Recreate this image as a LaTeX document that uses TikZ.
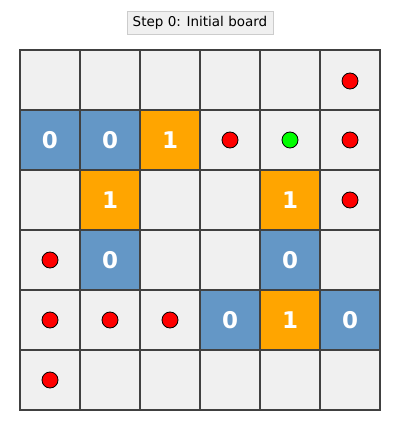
\documentclass[tikz,border=0pt]{standalone}
\usepackage{fontspec}
\setmainfont{DejaVu Sans}
\definecolor{cellbg}{HTML}{F0F0F0}
\definecolor{gridc}{HTML}{404040}
\definecolor{blu}{HTML}{6497C6}
\definecolor{org}{HTML}{FFA500}
\definecolor{titlebd}{HTML}{CCCCCC}
\begin{document}
\begin{tikzpicture}[x=1pt,y=-1pt,
  cellbox/.style={draw=gridc,line width=2pt,minimum size=60pt,inner sep=0pt,fill=cellbg},
  zero/.style={cellbox,fill=blu,text=white,font=\fontsize{23}{25}\selectfont\bfseries},
  one/.style={cellbox,fill=org,text=white,font=\fontsize{23}{25}\selectfont\bfseries},
  reddot/.style={circle,draw=black,line width=0.8pt,fill=red,minimum size=16pt,inner sep=0pt},
  greendot/.style={circle,draw=black,line width=0.8pt,fill=green,minimum size=16pt,inner sep=0pt},
  titlebox/.style={draw=titlebd,fill=cellbg,font=\fontsize{13.5}{15}\selectfont,inner xsep=6pt,inner ysep=5pt}]
\useasboundingbox (0,0) rectangle (400,430);
\node[titlebox] (title) at (200,23) {Step 0: Initial board};
% cells
\foreach \r in {0,...,5}{
  \foreach \c in {0,...,5}{
    \node[cellbox] (c\r\c) at ({50+60*\c},{80+60*\r}) {};
  }
}
% numbered cells
\node[zero] (n10) at (c10) {\raisebox{-4pt}{0}};
\node[zero] (n11) at (c11) {\raisebox{-4pt}{0}};
\node[one]  (n12) at (c12) {\raisebox{-4pt}{1}};
\node[one]  (n21) at (c21) {\raisebox{-4pt}{1}};
\node[one]  (n24) at (c24) {\raisebox{-4pt}{1}};
\node[zero] (n31) at (c31) {\raisebox{-4pt}{0}};
\node[zero] (n34) at (c34) {\raisebox{-4pt}{0}};
\node[zero] (n43) at (c43) {\raisebox{-4pt}{0}};
\node[one]  (n44) at (c44) {\raisebox{-4pt}{1}};
\node[zero] (n45) at (c45) {\raisebox{-4pt}{0}};
% dots
\node[reddot] (d05) at ([yshift=-1pt]c05) {};
\node[reddot] (d13) at (c13) {};
\node[greendot] (d14) at (c14) {};
\node[reddot] (d15) at (c15) {};
\node[reddot] (d25) at (c25) {};
\node[reddot] (d30) at (c30) {};
\node[reddot] (d40) at (c40) {};
\node[reddot] (d41) at (c41) {};
\node[reddot] (d42) at (c42) {};
\node[reddot] (d50) at (c50) {};
\end{tikzpicture}
\end{document}
